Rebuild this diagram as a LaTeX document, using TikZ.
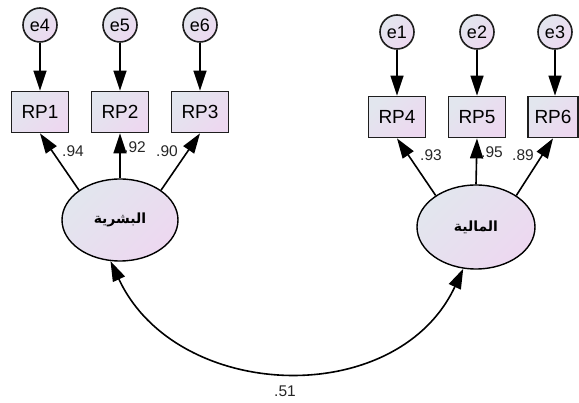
\documentclass[tikz,border=0pt]{standalone}
\usepackage{fontspec}
\setmainfont{Liberation Sans}
\newfontfamily\arabicfont[Script=Arabic]{DejaVu Sans}
\TeXXeTstate=1
\usetikzlibrary{arrows.meta,shapes.geometric}
\definecolor{gradA}{HTML}{E2E6EE}
\definecolor{gradB}{HTML}{EDD8F0}
\definecolor{edge}{HTML}{1E1E1E}
\begin{document}
\begin{tikzpicture}[x=1pt,y=-1pt,
  grad/.style={top color=gradA,bottom color=gradB,shading angle=45},
  errnode/.style={circle,draw=edge,line width=1.6pt,grad,minimum size=34pt,inner sep=0pt,font=\fontsize{18}{18}\selectfont},
  obsnode/.style={rectangle,draw=edge,line width=1.8pt,grad,minimum width=57pt,minimum height=41pt,inner sep=0pt,font=\fontsize{19}{19}\selectfont},
  latnode/.style={ellipse,draw=black,line width=1.4pt,grad,inner sep=0pt},
  conn/.style={draw=black,line width=1.6pt,-{Triangle[length=20pt,width=13pt]}},
  corr/.style={draw=black,line width=1.6pt,{Triangle[length=20pt,width=13pt]}-{Triangle[length=20pt,width=13pt]}},
  coef/.style={font=\fontsize{15.5}{15.5}\selectfont,text=black!85,inner sep=0pt},
  arlabel/.style={font=\fontsize{14}{14}\arabicfont\bfseries}]
\useasboundingbox (0,0) rectangle (579,403);
% left group
\node[errnode] (e4) at (40,25) {e4};
\node[errnode] (e5) at (120,25) {e5};
\node[errnode] (e6) at (200,25) {e6};
\node[obsnode] (RP1) at (40,112) {RP1};
\node[obsnode] (RP2) at (120,112) {RP2};
\node[obsnode] (RP3) at (200,112) {RP3};
\node[latnode,minimum width=116pt,minimum height=82pt,arlabel] (L) at (120,220) {\beginR البشرية\endR};
% right group
\node[errnode] (e1) at (397,32) {e1};
\node[errnode] (e2) at (477,32) {e2};
\node[errnode] (e3) at (555,32) {e3};
\node[obsnode] (RP4) at (397,117) {RP4};
\node[obsnode] (RP5) at (477,117) {RP5};
\node[obsnode,minimum width=50pt] (RP6) at (553,117) {RP6};
\node[latnode,minimum width=118pt,minimum height=84pt,arlabel] (R) at (476,227) {\beginR المالية\endR};
% error arrows
\draw[conn] (e4) -- (RP1);
\draw[conn] (e5) -- (RP2);
\draw[conn] (e6) -- (RP3);
\draw[conn] (e1) -- (RP4);
\draw[conn] (e2) -- (RP5);
\draw[conn] (e3.south) -- (e3.south |- RP6.north);
% loadings
\draw[conn] (L.144) -- (RP1.south);
\draw[conn] (L.north) -- (RP2.south);
\draw[conn] (L.36) -- (RP3.south);
\draw[conn] (R.142) -- (RP4.south);
\draw[conn] (R.north) -- (RP5.south);
\draw[conn] (R.38) -- (RP6.south);
% coefficients
\node[coef] (c94) at (73,151) {.94};
\node[coef] (c92) at (135,147) {.92};
\node[coef] (c90) at (167,151) {.90};
\node[coef] (c93) at (431,155) {.93};
\node[coef] (c95) at (492,152) {.95};
\node[coef] (c89) at (523,155) {.89};
% correlation
\draw[corr] (L.-103) .. controls +(65:156) and +(115:156) .. (R.-107);
\node[coef] (c51) at (285,391) {.51};
\end{tikzpicture}
\end{document}
